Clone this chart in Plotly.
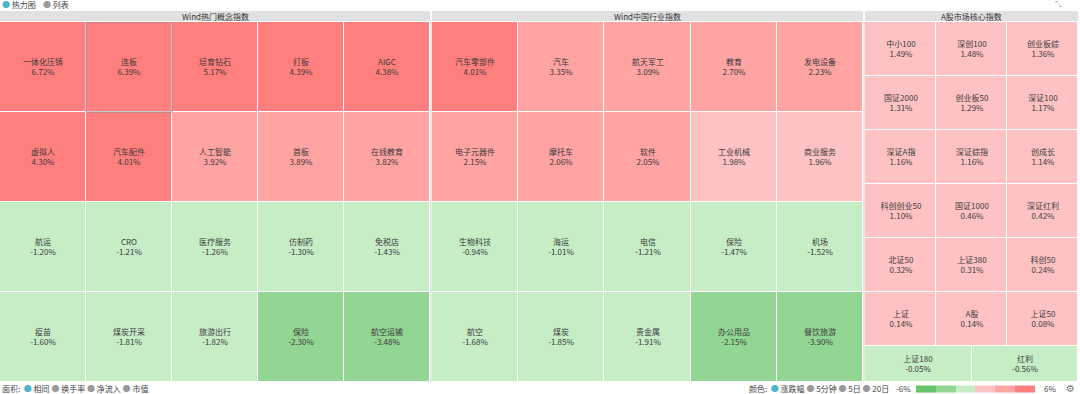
import numpy as np
import plotly.graph_objects as go

# ---------------- data ----------------
panel_titles = ["Wind热门概念指数", "Wind中国行业指数", "A股市场核心指数"]

concept_names = ["一体化压铸", "连板", "培育钻石", "打板", "AIGC",
                 "虚拟人", "汽车配件", "人工智能", "首板", "在线教育",
                 "航运", "CRO", "医疗服务", "仿制药", "免税店",
                 "疫苗", "煤炭开采", "旅游出行", "保险", "航空运输"]
concept_values = [6.72, 6.39, 5.17, 4.39, 4.38,
                  4.30, 4.01, 3.92, 3.89, 3.82,
                  -1.20, -1.21, -1.26, -1.30, -1.43,
                  -1.60, -1.81, -1.82, -2.30, -3.48]

industry_names = ["汽车零部件", "汽车", "航天军工", "教育", "发电设备",
                  "电子元器件", "摩托车", "软件", "工业机械", "商业服务",
                  "生物科技", "海运", "电信", "保险", "机场",
                  "航空", "煤炭", "贵金属", "办公用品", "餐饮旅游"]
industry_values = [4.01, 3.35, 3.09, 2.70, 2.23,
                   2.15, 2.06, 2.05, 1.98, 1.96,
                   -0.94, -1.01, -1.21, -1.47, -1.52,
                   -1.68, -1.85, -1.91, -2.15, -3.90]

core_names = ["中小100", "深创100", "创业板综",
              "国证2000", "创业板50", "深证100",
              "深证A指", "深证综指", "创成长",
              "科创创业50", "国证1000", "深证红利",
              "北证50", "上证380", "科创50",
              "上证", "A股", "上证50",
              "上证180", "红利"]
core_values = [1.49, 1.48, 1.36,
               1.31, 1.29, 1.17,
               1.16, 1.16, 1.14,
               1.10, 0.46, 0.42,
               0.32, 0.31, 0.24,
               0.14, 0.14, 0.08,
               -0.05, -0.56]

panel_cols = [5, 5, 3]
selected_name = "连板"

area_options = ["相同", "换手率", "净流入", "市值"]
color_options = ["涨跌幅", "5分钟", "5日", "20日"]
view_options = ["热力图", "列表"]

bin_colors = ["#6AC46A", "#93D593", "#C7EDC7", "#FFC2C2", "#FFA3A3", "#FF7F7F"]
cmin, cmax = -6, 6

# ---------------- layout helpers ----------------
W, H = 1080, 394
def px(x):
    return x / W
def py(y):
    return 1 - y / H

panel_px = [(0, 430), (432, 863), (865, 1078)]
cells_top, cells_bottom = 22, 382
head_top, head_bottom = 11, 21

nb = len(bin_colors)
colorscale = []
for i, c in enumerate(bin_colors):
    colorscale.append([i / nb, c])
    colorscale.append([(i + 1) / nb, c])

fig = go.Figure()
font_family = "Noto Sans CJK SC, Microsoft YaHei, sans-serif"

shapes = []
annotations = []
panels = [(concept_names, concept_values), (industry_names, industry_values), (core_names, core_values)]

for k, ((names, values), ncols, (x0p, x1p), title) in enumerate(zip(panels, panel_cols, panel_px, panel_titles)):
    ax = "" if k == 0 else str(k + 1)
    n = len(names)
    nfull = n // ncols
    rem = n - nfull * ncols
    z = np.array(values[:nfull * ncols]).reshape(nfull, ncols)
    txt = np.array([f"{nm}<br>{v:.2f}%" for nm, v in zip(names[:nfull * ncols], values[:nfull * ncols])]).reshape(nfull, ncols)
    total_h = nfull
    fig.add_trace(go.Heatmap(
        z=z, text=txt, texttemplate="%{text}",
        x=list(range(ncols + 1)), y=list(range(nfull + 1)),
        coloraxis="coloraxis", xgap=1, ygap=1,
        textfont=dict(size=8, color="#3a3a3a", family=font_family),
        hoverinfo="text", xaxis="x" + ax, yaxis="y" + ax))
    if rem:
        wcell = ncols / rem
        hcell = 1 / wcell
        zr = np.array(values[nfull * ncols:]).reshape(1, rem)
        tr = np.array([f"{nm}<br>{v:.2f}%" for nm, v in zip(names[nfull * ncols:], values[nfull * ncols:])]).reshape(1, rem)
        fig.add_trace(go.Heatmap(
            z=zr, text=tr, texttemplate="%{text}",
            x=[i * wcell for i in range(rem + 1)], y=[nfull, nfull + hcell],
            coloraxis="coloraxis", xgap=1, ygap=1,
            textfont=dict(size=8, color="#3a3a3a", family=font_family),
            hoverinfo="text", xaxis="x" + ax, yaxis="y" + ax))
        total_h = nfull + hcell
    axis_common = dict(visible=False, showgrid=False, zeroline=False, fixedrange=True)
    fig.layout["xaxis" + ax] = dict(domain=[px(x0p), px(x1p)], range=[0, ncols], anchor="y" + ax, **axis_common)
    fig.layout["yaxis" + ax] = dict(domain=[py(cells_bottom), py(cells_top)], range=[total_h, 0], anchor="x" + ax, **axis_common)

    # header band
    shapes.append(dict(type="rect", xref="paper", yref="paper", x0=px(x0p), x1=px(x1p),
                       y0=py(head_bottom), y1=py(head_top), fillcolor="#E1E1E1", line=dict(width=0), layer="below"))
    annotations.append(dict(text=title, xref="paper", yref="paper", x=px((x0p + x1p) / 2), y=py((head_top + head_bottom) / 2),
                            showarrow=False, xanchor="center", yanchor="middle",
                            font=dict(size=8, color="#333", family=font_family)))
    # highlighted (selected) cell
    if selected_name in names:
        i = names.index(selected_name)
        r, c = divmod(i, ncols)
        shapes.append(dict(type="rect", xref="x" + ax, yref="y" + ax, x0=c, x1=c + 1, y0=r, y1=r + 1,
                           line=dict(color="#8F8F8F", width=1), fillcolor="rgba(0,0,0,0)"))

# dividers between panels
for (a, b), (c, d) in zip(panel_px[:-1], panel_px[1:]):
    shapes.append(dict(type="rect", xref="paper", yref="paper", x0=px(b), x1=px(c),
                       y0=py(cells_bottom), y1=py(cells_top), fillcolor="#E8E8E8", line=dict(width=0)))

dot_on = "<span style='color:#4DB3D2'>●</span>"
dot_off = "<span style='color:#9A9A9A'>●</span>"

def radio(opts, sep=" "):
    return sep.join((dot_on if i == 0 else dot_off) + " " + o for i, o in enumerate(opts))

annotations.append(dict(text=radio(view_options, sep="    "), xref="paper", yref="paper", x=px(0), y=py(5),
                        showarrow=False, xanchor="left", yanchor="middle",
                        font=dict(size=8, color="#444", family=font_family)))
annotations.append(dict(text="面积:  " + radio(area_options), xref="paper", yref="paper", x=px(0), y=py(388),
                        showarrow=False, xanchor="left", yanchor="middle",
                        font=dict(size=8, color="#444", family=font_family)))
annotations.append(dict(text="颜色:  " + radio(color_options), xref="paper", yref="paper", x=px(891), y=py(388),
                        showarrow=False, xanchor="right", yanchor="middle",
                        font=dict(size=8, color="#444", family=font_family)))
annotations.append(dict(text=f"{cmin}%", xref="paper", yref="paper", x=px(903), y=py(388),
                        showarrow=False, xanchor="center", yanchor="middle",
                        font=dict(size=8, color="#444", family=font_family)))
annotations.append(dict(text=f"{cmax}%", xref="paper", yref="paper", x=px(1050), y=py(388),
                        showarrow=False, xanchor="center", yanchor="middle",
                        font=dict(size=8, color="#444", family=font_family)))
annotations.append(dict(text="⚙", xref="paper", yref="paper", x=px(1070), y=py(388),
                        showarrow=False, xanchor="center", yanchor="middle",
                        font=dict(size=10, color="#777", family="DejaVu Sans")))
annotations.append(dict(text="⤡", xref="paper", yref="paper", x=px(1058), y=py(4),
                        showarrow=False, xanchor="center", yanchor="middle",
                        font=dict(size=8, color="#BBB", family="DejaVu Sans")))

fig.update_layout(
    width=W, height=H,
    margin=dict(l=0, r=0, t=0, b=0),
    paper_bgcolor="white", plot_bgcolor="white",
    showlegend=False,
    coloraxis=dict(colorscale=colorscale, cmin=cmin, cmax=cmax,
                   colorbar=dict(orientation="h", x=px(975.5), xanchor="center", y=py(388.7), yanchor="middle",
                                 lenmode="pixels", len=119, thicknessmode="pixels", thickness=7,
                                 showticklabels=False, ticks="", outlinewidth=0, xpad=0, ypad=0)),
    shapes=shapes, annotations=annotations,
    font=dict(family=font_family),
)

fig.write_html("out.html", config={"displayModeBar": False},
               post_script="document.body.style.margin='0';document.body.style.overflow='hidden';")
